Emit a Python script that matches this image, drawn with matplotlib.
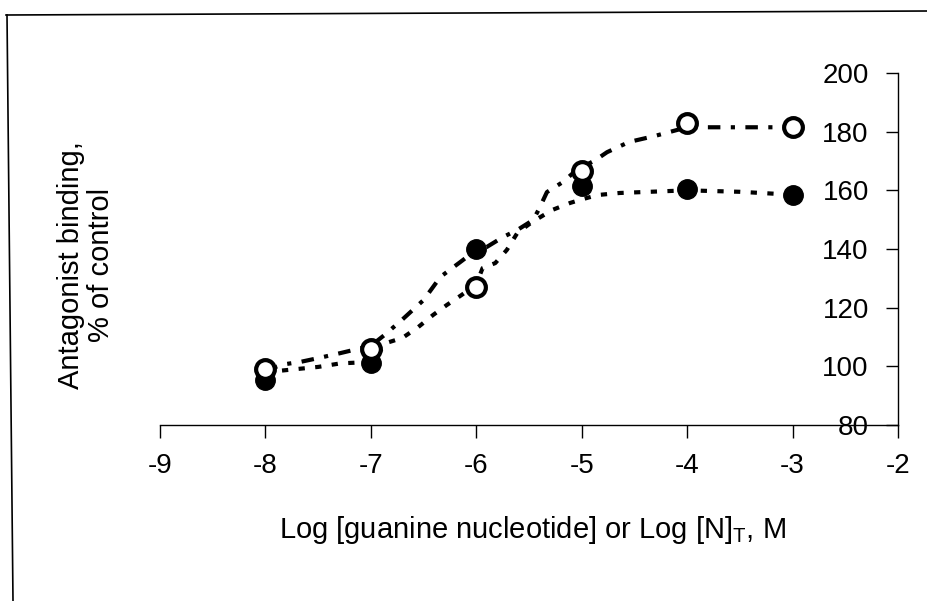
import matplotlib.pyplot as plt
from matplotlib.lines import Line2D

plt.rcParams['font.family'] = ['Liberation Sans', 'DejaVu Sans']
plt.rcParams['axes.unicode_minus'] = False

# measured points
log_conc = [-8, -7, -6, -5, -4, -3]
open_vals = [99, 106, 127, 166.5, 183, 181.5]
filled_vals = [95.5, 101, 140, 161.5, 160.5, 158.5]

# fitted curves
fit_open_x = [-8, -7.84, -7.67, -7.5, -7.29, -7.0, -6.87, -6.7, -6.5, -6.34, -6.15,
              -6.0, -5.9, -5.75, -5.61, -5.46, -5.4, -5.33, -5.18, -5.05, -4.87,
              -4.76, -4.55, -4.31, -4.0, -3.5, -3.0]
fit_open_y = [98.5, 100.6, 101.5, 102.8, 104.5, 107, 110.7, 116, 122.6, 130.5, 135.6,
              139.7, 140.7, 144, 146.5, 149.9, 154, 159.4, 162.8, 166.9, 170.3,
              173, 176.5, 178.5, 181.5, 181.5, 181.5]
fit_filled_x = [-8, -7.5, -7.29, -7.0, -6.85, -6.7, -6.55, -6.41, -6.28, -6.14, -6.0,
                -5.94, -5.82, -5.71, -5.61, -5.47, -5.28, -5.11, -5.02, -4.85, -4.64,
                -4.0, -3.5, -3.0]
fit_filled_y = [98, 99.8, 101, 101.5, 108, 109.7, 113.4, 117.5, 120.9, 124.3, 128,
                133.5, 135.2, 139.7, 145.5, 149.2, 153.3, 155.7, 156.7, 158.4, 159.1,
                160, 159.5, 158.5]

xticks = [-9, -8, -7, -6, -5, -4, -3, -2]
yticks = [80, 100, 120, 140, 160, 180, 200]

fig = plt.figure(figsize=(9.28, 6.01), dpi=100)
ax = fig.add_axes([160 / 928, 1 - 425 / 601, 738 / 928, 352 / 601])

ax.plot(fit_open_x, fit_open_y, color='black', lw=3,
        linestyle=(0, (3, 2.5, 1, 2.5)), zorder=2)
ax.plot(fit_filled_x, fit_filled_y, color='black', lw=3,
        linestyle=(0, (1.5, 2.5)), zorder=2)
ax.plot(log_conc, filled_vals, 'o', color='black', ms=14, zorder=3)
ax.plot(log_conc, open_vals, 'o', mfc='white', mec='black', mew=3, ms=13.5, zorder=4)

ax.set_xlim(-9, -2)
ax.set_ylim(80, 200)
ax.set_xticks(xticks)
ax.set_yticks(yticks)

for side in ['left', 'top']:
    ax.spines[side].set_visible(False)
ax.spines['bottom'].set_linewidth(1)
ax.spines['right'].set_linewidth(1)

ax.yaxis.tick_right()
ax.tick_params(axis='y', direction='in', length=9, width=1, labelsize=20, pad=-21)
for lab in ax.get_yticklabels():
    lab.set_horizontalalignment('right')
ax.tick_params(axis='x', direction='out', length=9, width=1, labelsize=20, pad=11)

fig.text(86 / 928, 1 - 265 / 601, 'Antagonist binding,\n% of control', rotation=90,
         ha='center', va='center', fontsize=21, linespacing=1.1)
fig.text(532 / 928, 1 - 530 / 601, 'Log [guanine nucleotide] or Log [N]$_\\mathregular{T}$, M',
         ha='center', va='center', fontsize=21)

# page border on top and left
fig.add_artist(Line2D([6 / 928, 1], [1 - 15 / 601, 1 - 11 / 601], transform=fig.transFigure,
                      color='black', lw=1.2))
fig.add_artist(Line2D([7 / 928, 13 / 928], [1 - 15 / 601, 0], transform=fig.transFigure,
                      color='black', lw=1.2))

fig.savefig('out.png', dpi=100)
